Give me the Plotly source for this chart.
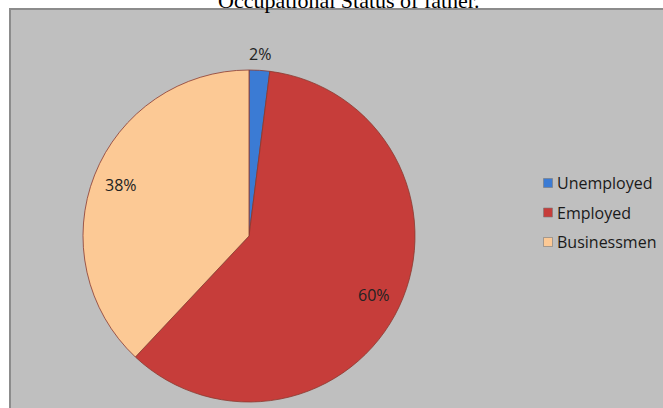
import math
import plotly.graph_objects as go

categories = ["Unemployed", "Employed", "Businessmen"]
values = [2, 60, 38]
colors = ["#3b7bd4", "#c63d3a", "#fcc995"]
title_text = "Occupational Status of father."

W, H = 663, 408
cx, cy, R = 249, 236, 166  # pixel centre (from top) and radius

fig = go.Figure()
fig.add_trace(go.Pie(
    labels=categories, values=values, sort=False, direction="clockwise",
    rotation=0, textinfo="none", hoverinfo="label+percent",
    marker=dict(colors=colors, line=dict(color="#8a3a30", width=0.8)),
    domain=dict(x=[(cx - R) / W, (cx + R) / W],
                y=[(H - cy - R) / H, (H - cy + R) / H]),
    showlegend=False,
))

annotations = []
total = sum(values)
start = 0.0
for i, v in enumerate(values):
    frac = v / total
    mid = (start + frac / 2) * 2 * math.pi
    start += frac
    rr = R + 16 if frac < 0.05 else R * 0.83
    px = cx + rr * math.sin(mid)
    py = cy - rr * math.cos(mid)
    annotations.append(dict(
        x=px / W, y=1 - py / H, xref="paper", yref="paper",
        text=f"{round(frac * 100)}%", showarrow=False,
        font=dict(family="Open Sans", size=16, color="#222222"),
        xanchor="center", yanchor="middle"))

# legend
leg_x, leg_y0, leg_dy = 548, 183, 29.5
shapes = [dict(type="rect", xref="paper", yref="paper",
               x0=10 / W, x1=1.01, y0=-0.01, y1=1 - 9 / H,
               line=dict(color="#8c8c8c", width=2), fillcolor="#bfbfbf",
               layer="below")]
for i, c in enumerate(categories):
    y = leg_y0 + i * leg_dy
    shapes.append(dict(type="rect", xref="paper", yref="paper",
                       x0=(leg_x - 4.5) / W, x1=(leg_x + 4.5) / W,
                       y0=1 - (y + 4.5) / H, y1=1 - (y - 4.5) / H,
                       fillcolor=colors[i], line=dict(color="#7a7a7a", width=0.6)))
    annotations.append(dict(
        x=(leg_x + 7) / W, y=1 - y / H, xref="paper", yref="paper",
        text=c, showarrow=False, xanchor="left", yanchor="middle",
        font=dict(family="Open Sans", size=16, color="#1a1a1a")))

annotations.append(dict(
    x=348 / W, y=1 - 1 / H, xref="paper", yref="paper", text=title_text,
    showarrow=False, xanchor="center", yanchor="middle",
    font=dict(family="Liberation Serif", size=22, color="#000000")))

fig.update_layout(
    width=W, height=H, margin=dict(l=0, r=0, t=0, b=0),
    paper_bgcolor="white", plot_bgcolor="white",
    shapes=shapes, annotations=annotations, showlegend=False,
)
fig.write_html("out.html")
